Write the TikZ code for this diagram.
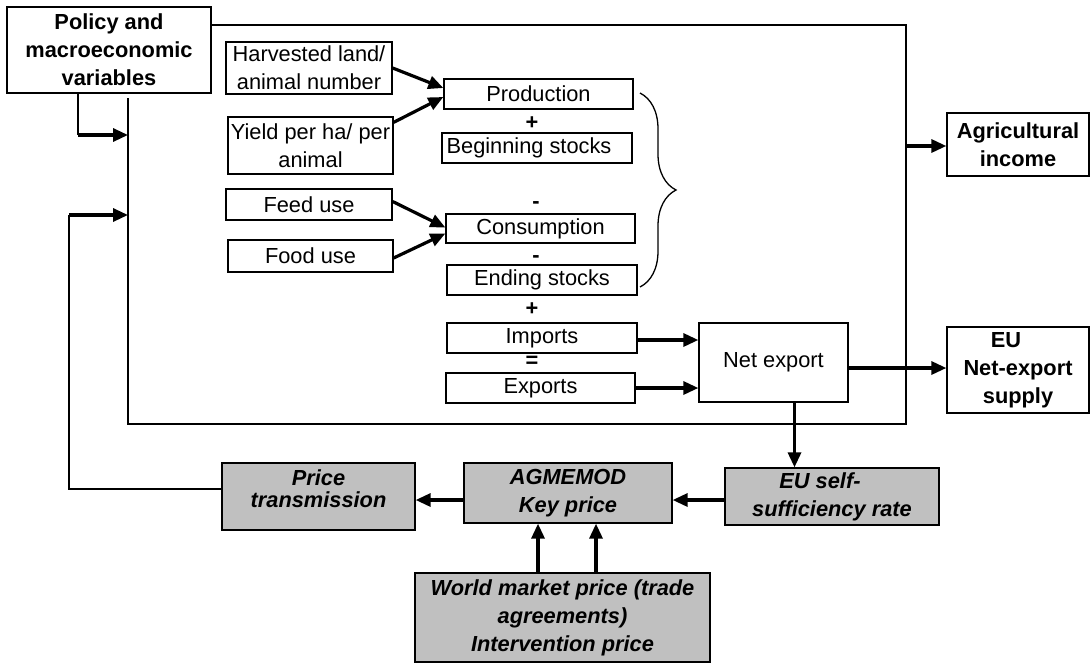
\documentclass[tikz,border=0pt]{standalone}
\usepackage{fontspec}
\setmainfont{Liberation Sans}
\usetikzlibrary{arrows.meta,decorations.pathreplacing}
\definecolor{boxgrey}{RGB}{192,192,192}
\newcommand{\txt}{\fontsize{21.8}{28}\selectfont}

\begin{document}
\begin{tikzpicture}[x = 1pt, y = -1pt, line width = 1.3pt,
                        box/.style = {draw, inner xsep = 0pt, inner ysep = 0pt, align = center, font = \txt},
                        boldbox/.style = {box, font = \txt\bfseries},
                        greybox/.style = {box, fill = boxgrey, font = \txt\bfseries\itshape},
                        sign/.style = {inner sep = 0pt, font = \txt\bfseries},
                        flow/.style = {line width = 3.2pt, -{Triangle[length = 15pt, width = 13pt]}}]
      \useasboundingbox (0, 0) rectangle (1091, 664);
      \node [boldbox, minimum width = 204pt, minimum height = 86pt] (policy) at (109, 50){Policy and\\macroeconomic\\variables};
      \node [box, minimum width = 166pt, minimum height = 52pt] (harvest) at (309, 68){Harvested land/\\animal number};
      \node [box, minimum width = 165pt, minimum height = 57pt] (yield) at (310.5, 145.5){Yield per ha/ per\\animal};
      \node [box, minimum width = 166pt, minimum height = 31pt] (feed) at (309, 204.5){Feed use};
      \node [box, minimum width = 165pt, minimum height = 32pt] (food) at (310.5, 256){Food use};
      \node [box, minimum width = 189pt, minimum height = 30pt] (prod) at (538.5, 94){Production};
      \node [sign] (plus1) at (532, 123){+};
      \node [box, minimum width = 190pt, minimum height = 30pt] (begin) at (537, 148){Beginning stocks\hspace*{16pt}};
      \node [sign] (minus1) at (536, 205.5){-};
      \node [box, minimum width = 189pt, minimum height = 29pt] (cons) at (540.5, 228.5){Consumption};
      \node [sign] (minus2) at (536, 259.5){-};
      \node [box, minimum width = 190pt, minimum height = 30pt] (endst) at (542, 280){Ending stocks};
      \node [sign] (plus2) at (532, 309){+};
      \node [box, minimum width = 190pt, minimum height = 30pt] (imports) at (542, 338){Imports};
      \node [sign] (eq) at (532, 362){=};
      \node [box, minimum width = 189pt, minimum height = 30pt] (exports) at (540.5, 388){Exports};
      \node [box, minimum width = 149pt, minimum height = 79pt] (net) at (773.5, 362.5){Net export};
      \node [boldbox, minimum width = 142pt, minimum height = 63pt] (agri) at (1018, 144.5){Agricultural\\income};
      \node [boldbox, minimum width = 142pt, minimum height = 86pt] (eunet) at (1018, 370){\hspace*{-24pt}EU\\Net-export\\supply};
      \node [greybox, minimum width = 193pt, minimum height = 67pt, text depth = 15pt] (price) at (318.5, 496.5){Price\\[-6pt]transmission};
      \node [greybox, minimum width = 208pt, minimum height = 60pt] (key) at (568, 493){AGMEMOD\\Key price};
      \node [greybox, minimum width = 214pt, minimum height = 57pt] (self) at (832, 496.5){\hspace*{-24pt}EU self-\\sufficiency rate};
      \node [greybox, minimum width = 295pt, minimum height = 89pt] (world) at (562.5, 617.5){World market price (trade\\agreements)\\Intervention price};
      \coordinate (tr) at (906, 25);
      \coordinate (br) at (906, 424);
      \coordinate (bl) at (128, 424);
      \coordinate (fr) at (906, 146);
      \coordinate (pin) at (78, 135);
      \coordinate (fb) at (69, 215);
      \draw (policy.east |- tr) -- (tr) -- (br) -- (bl) -- (128, 98);
      \draw [decorate, decoration = {brace, amplitude = 36pt}] (640, 93) -- (640, 287);
      \draw ([xshift = -31pt]policy.south) -- (pin);
      \draw [flow] (pin) -- (pin -| bl);
      \draw ([yshift = 7.5pt]price.west) -| (fb);
      \draw [flow] (fb) -- (fb -| bl);
      \draw [flow] (harvest.east) -- ([yshift = 6pt]prod.west);
      \draw [flow] ([yshift = -6pt]yield.north east) -- ([yshift = -3pt]prod.west);
      \draw [flow] ([yshift = 3pt]feed.east) -- ([yshift = 1pt]cons.west);
      \draw [flow] ([yshift = -2pt]food.east) -- ([yshift = -5pt]cons.west);
      \draw [flow] ([yshift = -2pt]imports.east) -- ([yshift = -2pt]imports.east -| net.west);
      \draw [flow] (exports.east) -- (exports.east -| net.west);
      \draw [flow] ([yshift = -5.5pt]net.east) -- ([yshift = -5.5pt]net.east -| eunet.west);
      \draw [flow] (fr) -- (fr -| agri.west);
      \draw [flow] ([xshift = 21pt]net.south) -- ([xshift = 21pt]net.south |- self.north);
      \draw [flow] ([yshift = -3.5pt]self.west) -- ([yshift = -3.5pt]self.west -| key.east);
      \draw [flow] ([yshift = -7pt]key.west) -- ([yshift = -7pt]key.west -| price.east);
      \draw [flow] ([xshift = -24.5pt]world.north) -- ([xshift = -24.5pt]world.north |- key.south);
      \draw [flow] ([xshift = 33.5pt]world.north) -- ([xshift = 33.5pt]world.north |- key.south);
    \end{tikzpicture}
\end{document}
